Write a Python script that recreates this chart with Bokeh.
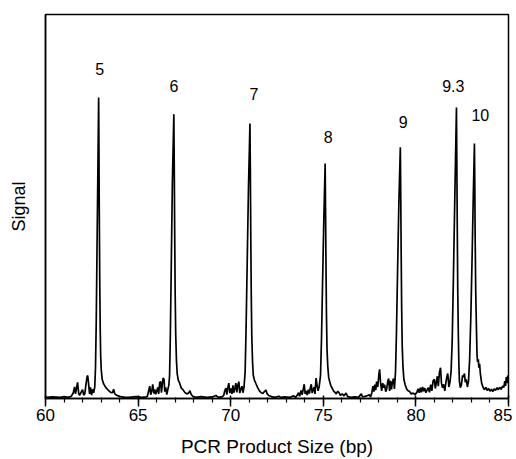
from bokeh.plotting import figure
from bokeh.models import Range1d, FixedTicker
from bokeh.core.properties import value
from bokeh.embed import file_html
from bokeh.resources import INLINE

# Electropherogram trace: PCR product size (bp) and signal (relative units)
size_bp = [
    60.00, 60.40, 60.80, 61.00, 61.20, 61.40, 61.50, 61.57, 61.62, 61.68, 61.73, 61.79, 61.84, 61.92,
    62.00, 62.06, 62.12, 62.18, 62.24, 62.28, 62.33, 62.38, 62.43, 62.49, 62.54, 62.60, 62.66,
    62.70, 62.74, 62.78, 62.83, 62.87, 62.885, 62.905, 62.93, 62.955, 62.98, 63.01, 63.06, 63.14,
    63.25, 63.38, 63.52, 63.62, 63.68, 63.74, 63.85, 64.05, 64.30, 64.50, 64.90, 65.20, 65.45,
    65.50, 65.58, 65.63, 65.68, 65.74, 65.79, 65.85, 65.90, 65.95, 66.01, 66.06, 66.11, 66.17,
    66.22, 66.26, 66.31, 66.35, 66.40, 66.44, 66.49, 66.55, 66.60, 66.66,
    66.70, 66.74, 66.79, 66.85, 66.93, 66.95, 66.975, 67.00, 67.03, 67.07, 67.11, 67.17, 67.25,
    67.33, 67.42, 67.52, 67.62, 67.72, 67.80, 67.86, 67.95, 68.10, 68.40, 68.70, 69.00, 69.20,
    69.35, 69.55,
    69.62, 69.68, 69.74, 69.79, 69.85, 69.90, 69.95, 70.01, 70.07, 70.12, 70.17, 70.23, 70.28,
    70.33, 70.39, 70.44, 70.49, 70.55, 70.61, 70.66, 70.72,
    70.78, 70.83, 70.89, 70.96, 71.04, 71.06, 71.085, 71.11, 71.14, 71.18, 71.22, 71.28, 71.36,
    71.45, 71.55, 71.65, 71.74, 71.82, 71.90, 71.97, 72.05, 72.20, 72.40, 72.60, 72.70, 72.90,
    73.20, 73.40, 73.50,
    73.60, 73.66, 73.72, 73.80, 73.86, 73.92, 73.97, 74.02, 74.08, 74.13, 74.19, 74.25, 74.30,
    74.35, 74.40, 74.46, 74.51, 74.55, 74.61, 74.66, 74.72, 74.78,
    74.85, 74.90, 74.96, 75.03, 75.10, 75.12, 75.145, 75.17, 75.20, 75.24, 75.29, 75.34, 75.41,
    75.49, 75.56, 75.63, 75.70, 75.78, 75.85, 75.92, 76.02, 76.12, 76.23, 76.32, 76.50, 76.70,
    76.90, 77.05, 77.12, 77.30, 77.48, 77.55,
    77.62, 77.68, 77.73, 77.78, 77.83, 77.88, 77.94, 78.00, 78.04, 78.09, 78.15, 78.21, 78.26,
    78.31, 78.37, 78.42, 78.48, 78.53, 78.58, 78.63, 78.68, 78.73, 78.79, 78.84,
    78.90, 78.95, 79.01, 79.08, 79.16, 79.18, 79.205, 79.23, 79.26, 79.30, 79.35, 79.42, 79.50,
    79.58, 79.66, 79.75, 79.86, 79.95, 80.05, 80.12, 80.18, 80.24, 80.30, 80.36, 80.42, 80.48,
    80.54, 80.60, 80.67, 80.73, 80.80, 80.86, 80.93, 81.00, 81.05, 81.10, 81.16, 81.21, 81.27,
    81.33, 81.38, 81.44, 81.50, 81.56, 81.62, 81.67, 81.72, 81.78, 81.84,
    81.90, 81.96, 82.02, 82.10, 82.19, 82.21, 82.235, 82.26, 82.29, 82.32, 82.35, 82.40, 82.46,
    82.52, 82.58, 82.62, 82.67, 82.72, 82.78, 82.84,
    82.90, 82.97, 83.04, 83.10, 83.16, 83.18, 83.20, 83.23, 83.27, 83.30, 83.33, 83.37, 83.40,
    83.44, 83.48, 83.55, 83.62, 83.70, 83.78, 83.85, 83.93, 84.00, 84.08, 84.15, 84.22, 84.30,
    84.38, 84.45, 84.52, 84.60, 84.68, 84.75, 84.80, 84.84, 84.88, 84.92, 84.96, 85.00,
]
signal = [
    0.3, 0.4, 0.3, 0.5, 0.3, 0.6, 1.5, 3.0, 1.2, 2.8, 4.2, 1.4, 0.8, 1.6,
    2.3, 0.9, 1.2, 3.5, 5.6, 6.0, 3.6, 1.2, 2.9, 0.9, 2.4, 1.5, 3.0,
    8, 20, 38, 60, 78.4, 66, 48, 30, 18, 11, 7.5, 5.0, 3.8,
    2.9, 2.2, 1.6, 1.5, 2.4, 1.2, 0.8, 0.5, 0.3, 0.3, 0.5, 0.3, 0.4,
    0.6, 2.2, 3.2, 1.0, 2.0, 3.7, 1.3, 2.4, 1.1, 2.0, 2.9, 1.2, 4.2,
    4.4, 1.5, 3.8, 5.3, 5.0, 1.8, 2.9, 1.0, 2.2, 3.5,
    6, 16, 34, 56, 74.0, 62, 44, 28, 17, 10, 6.5, 4.8, 3.9,
    2.7, 2.3, 1.6, 1.2, 1.4, 2.0, 1.1, 0.6, 0.3, 0.5, 0.3, 0.4, 0.8,
    0.3, 0.5,
    0.8, 2.0, 2.7, 1.0, 3.0, 4.0, 1.4, 2.6, 1.2, 3.4, 1.5, 2.8, 4.0,
    1.6, 3.5, 4.4, 1.4, 2.5, 3.2, 1.5, 3.0,
    7, 18, 35, 55, 71.6, 60, 42, 27, 16, 9.5, 6.0, 4.8, 3.9,
    2.9, 2.0, 1.5, 1.3, 1.8, 2.2, 1.2, 0.8, 0.5, 0.3, 0.6, 0.3, 0.4,
    0.3, 0.7, 0.3,
    0.9, 1.5, 0.6, 2.1, 1.0, 2.5, 3.7, 1.2, 2.0, 0.9, 2.3, 1.3, 2.8,
    3.7, 1.4, 2.4, 3.0, 1.2, 5.3, 3.5, 2.0, 3.2,
    6, 15, 30, 47, 61.2, 50, 35, 22, 13, 8.5, 5.5, 4.5, 3.3,
    2.6, 1.9, 1.6, 1.2, 1.9, 1.5, 0.8, 1.2, 0.7, 1.4, 0.5, 0.3, 0.4,
    0.3, 1.2, 0.4, 0.6, 1.0, 0.4,
    1.5, 3.2, 1.8, 3.6, 2.2, 4.4, 3.0, 6.2, 7.6, 4.2, 2.0, 4.0, 2.8,
    3.6, 1.8, 2.4, 4.4, 5.2, 2.0, 4.6, 2.4, 4.2, 5.2, 2.5,
    7, 17, 33, 51, 65.4, 54, 38, 24, 14, 8.5, 5.0, 3.6, 2.5,
    2.0, 1.8, 1.2, 1.4, 1.0, 1.6, 2.5, 1.5, 2.8, 1.6, 3.0, 1.9, 2.7,
    1.5, 2.2, 2.8, 1.6, 3.6, 2.0, 4.6, 5.0, 2.6, 4.0, 5.8, 3.2, 6.8,
    8.0, 4.0, 2.8, 3.7, 2.0, 4.2, 5.6, 6.5, 3.0, 4.3,
    7, 15, 30, 52, 75.8, 62, 44, 28, 17, 9, 4.5, 2.8, 3.6,
    6.0, 5.6, 6.5, 4.2, 5.0, 3.0, 4.5,
    10, 22, 38, 53, 66.4, 56, 42, 28, 18, 11.5, 9.5, 10.2, 8.0,
    9.0, 6.5, 4.0, 3.0, 2.3, 2.9, 2.1, 2.6, 1.9, 2.4, 1.8, 2.5, 2.1,
    2.8, 2.3, 2.9, 2.4, 3.2, 2.9, 4.5, 3.3, 5.6, 4.0, 6.0, 5.0,
]

# Allele labels above peaks
allele_labels = ["5", "6", "7", "8", "9", "9.3", "10"]
label_bp = [62.92, 66.93, 71.26, 75.26, 79.32, 82.02, 83.48]
label_signal = [85.9, 81.5, 79.2, 68.0, 71.9, 81.5, 73.7]

x_major_ticks = [60, 65, 70, 75, 80, 85]
x_minor_ticks = list(range(60, 86))

FONT = "Liberation Sans"

p = figure(width=512, height=459, output_backend="svg", toolbar_location=None,
           x_range=Range1d(60, 85), y_range=Range1d(0, 100),
           min_border_left=45, min_border_right=4, min_border_top=14, min_border_bottom=61,
           background_fill_color="white", border_fill_color="white")

p.xgrid.visible = False
p.ygrid.visible = False
p.outline_line_color = "black"
p.outline_line_width = 1.5

# x axis
xa = p.xaxis[0]
xa.ticker = FixedTicker(ticks=x_major_ticks, minor_ticks=x_minor_ticks)
xa.axis_line_width = 1.5
xa.major_tick_in = 3
xa.major_tick_out = 8
xa.major_tick_line_width = 1.5
xa.minor_tick_in = 1
xa.minor_tick_out = 4
xa.minor_tick_line_width = 1.2
xa.major_label_standoff = 2
xa.major_label_text_font = FONT
xa.major_label_text_font_size = "17px"
xa.major_label_text_color = "black"
xa.axis_label = "PCR Product Size (bp)"
xa.axis_label_text_font = FONT
xa.axis_label_text_font_size = "19px"
xa.axis_label_text_font_style = "normal"
xa.axis_label_text_color = "black"
xa.axis_label_standoff = 12

# y axis
ya = p.yaxis[0]
ya.ticker = FixedTicker(ticks=[])
ya.axis_line_width = 1.5
ya.major_tick_out = 0
ya.major_tick_in = 0
ya.minor_tick_out = 0
ya.minor_tick_in = 0
ya.major_label_standoff = 0
ya.axis_label = "Signal"
ya.axis_label_text_font = FONT
ya.axis_label_text_font_size = "18px"
ya.axis_label_text_font_style = "normal"
ya.axis_label_text_color = "black"
ya.axis_label_standoff = 17

p.line(size_bp, signal, line_color="black", line_width=1.7)

p.text(x=label_bp, y=label_signal, text=allele_labels,
       text_align="center", text_baseline="middle",
       text_font=value(FONT), text_font_size="16px", text_color="black")

open("out.html", "w").write(file_html(p, INLINE))
